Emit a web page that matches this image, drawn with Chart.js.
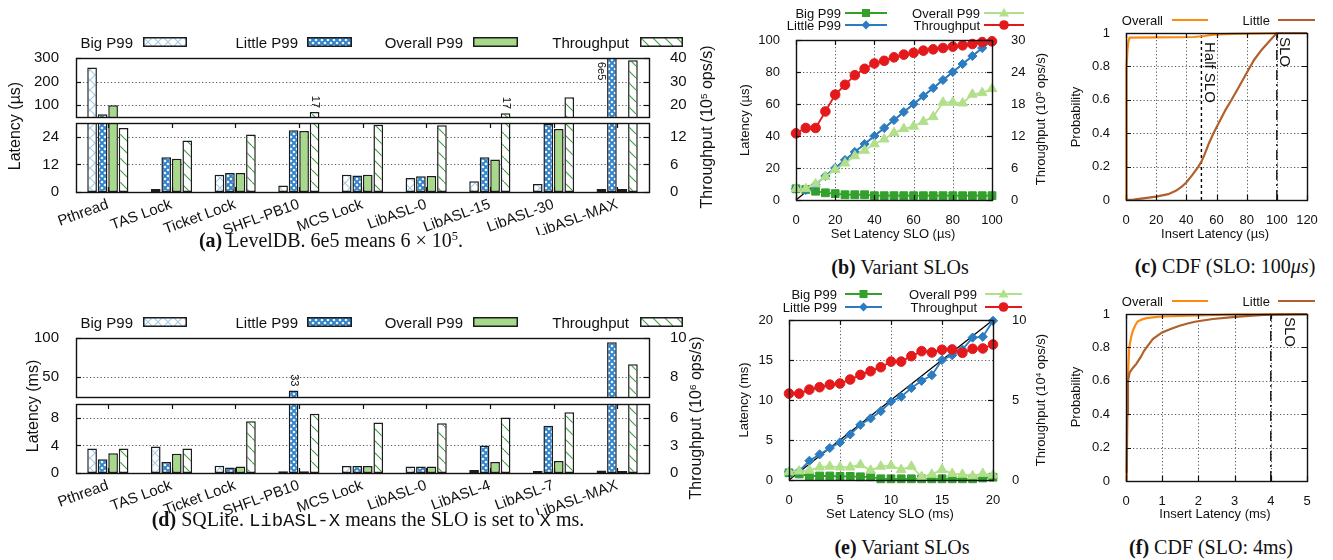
<!DOCTYPE html>
<html><head><meta charset="utf-8">
<script src="https://cdn.jsdelivr.net/npm/chart.js"></script>
<style>
html,body{margin:0;padding:0;background:#fff;}
#root{position:relative;width:1333px;height:560px;overflow:hidden;font-family:'Liberation Sans',Arial,Helvetica,sans-serif;color:#111;background:#fff;}
canvas{position:absolute;}
.lbl{position:absolute;white-space:nowrap;line-height:1;}
.vt{transform:translate(-50%,-50%) rotate(-90deg);}
.ct{transform:translate(-50%,-50%);}
.rt{transform:translate(-100%,-50%);}
.cap{font-family:'Liberation Serif','Times New Roman',serif;}
.cap code{font-family:'Liberation Mono','DejaVu Sans Mono',monospace;font-size:0.95em;}
sup{font-size:0.62em;position:relative;top:-0.55em;vertical-align:baseline;line-height:0;}
</style></head>
<body><div id="root"></div>
<script>
// ===================== DATA =====================
const seriesNames = ['Big P99', 'Little P99', 'Overall P99', 'Throughput'];

// (a) LevelDB  (latency in µs, throughput in 1e5 ops/s)
const catsA    = ['Pthread','TAS Lock','Ticket Lock','SHFL-PB10','MCS Lock','LibASL-0','LibASL-15','LibASL-30','LibASL-MAX'];
const bigA     = [260, 1.3, 7.5, 2.8, 7.5, 6.1, 4.7, 3.5, 1.3];
const littleA  = [62, 15.1, 8.3, 26.8, 7.2, 6.9, 15.1, 29.6, 600000];
const overallA = [100, 14.5, 8.3, 26.5, 7.5, 7.0, 14.1, 27.4, 1.3];
const tputA    = [13.9, 11.2, 12.5, 17.1, 14.6, 14.5, 16.6, 23.4, 39];
const ticksATopL = [100, 200, 300], ticksATopR = [20, 30, 40];
const ticksABotL = [0, 12, 24],     ticksABotR = [0, 6, 12];
const notesA = [
  {series: 3, cat: 3, text: '17', side: 'above'},
  {series: 3, cat: 6, text: '17', side: 'above'},
  {series: 1, cat: 8, text: '6e5', side: 'left'}
];

// (d) SQLite  (latency in ms, throughput in 1e6 ops/s)
const catsD    = ['Pthread','TAS Lock','Ticket Lock','SHFL-PB10','MCS Lock','LibASL-0','LibASL-4','LibASL-7','LibASL-MAX'];
const bigD     = [3.56, 3.85, 1.04, 0.25, 1.0, 0.95, 0.45, 0.3, 0.35];
const littleD  = [2.0, 1.6, 0.8, 33.3, 1.0, 0.95, 4.0, 6.86, 94.7];
const overallD = [2.86, 2.8, 0.95, 0.25, 1.0, 0.95, 1.6, 1.75, 0.3];
const tputD    = [2.67, 2.67, 5.63, 6.45, 5.48, 5.4, 6.04, 6.6, 8.67];
const ticksDTopL = [50, 100], ticksDTopR = [8, 10];
const ticksDBotL = [0, 4, 8], ticksDBotR = [0, 3, 6];
const notesD = [{series: 1, cat: 3, text: '33', side: 'above'}];

// (b) Variant SLOs, LevelDB
const sloB     = [0,5,10,15,20,25,30,35,40,45,50,55,60,65,70,75,80,85,90,95,100];
const bigB     = [7,6.5,5.5,4.5,4,3.3,3.3,3.3,2.7,2.7,2.7,2.7,2.7,2.7,2.7,2.7,2.7,2.7,2.7,2.7,2.7];
const littleB  = [7.1,6.3,9.5,15,20,25,30,35,40,45,50,55,60,65,70,75,80,85,90,95,99.5];
const overallB = [7,7,10,14.5,19,23,27.5,31,35,38,42,44.5,46,49,52,61,61,60.5,66,67,69.5];
const tputB    = [12.5,13.5,13.5,16.6,19.75,21.6,23.4,24.6,25.6,26.1,26.75,27.25,27.6,28,28.25,28.5,28.75,29,29.25,29.6,29.75];
const refB     = [0, 100];
const ticksBX = [0,20,40,60,80,100], ticksBL = [0,20,40,60,80,100], ticksBR = [0,6,12,18,24,30];

// (c) CDF, SLO 100 µs
const cdfOverallCx = [0, 0.2, 0.5, 1.0, 1.6, 2.4, 20, 45, 52, 58, 70, 100, 120];
const cdfOverallCy = [0, 0.6, 0.8, 0.9, 0.95, 0.972, 0.974, 0.976, 0.982, 0.99, 0.995, 1, 1];
const cdfLittleCx  = [0, 5, 10, 20, 28, 33, 37, 40, 44, 48, 50, 52, 55, 58, 62, 66, 70, 75, 80, 85, 90, 95, 100, 120];
const cdfLittleCy  = [0, 0.003, 0.008, 0.02, 0.035, 0.055, 0.08, 0.105, 0.15, 0.2, 0.23, 0.27, 0.34, 0.4, 0.47, 0.54, 0.6, 0.68, 0.76, 0.84, 0.9, 0.95, 1.0, 1.0];
const halfSloC = 50, sloC = 100;
const ticksCX = [0,20,40,60,80,100,120], ticksProb = [0,0.2,0.4,0.6,0.8,1];

// (e) Variant SLOs, SQLite
const sloE     = [0,1,2,3,4,5,6,7,8,9,10,11,12,13,14,15,16,17,18,19,20];
const bigE     = [0.9,0.75,0.5,0.5,0.5,0.45,0.45,0.4,0.4,0.15,0.15,0.15,0.15,0.15,0.15,0.15,0.15,0.15,0.15,0.25,0.35];
const littleE  = [1.0,1.1,2.4,3.2,4.0,4.7,5.7,6.9,7.7,8.6,9.8,10.4,11.5,12.4,13.1,15.0,15.6,16.3,17.8,17.9,19.9];
const overallE = [1.0,1.1,1.2,1.6,1.7,1.6,1.6,1.9,1.2,1.7,1.8,1.3,1.7,0.4,0.7,1.3,0.8,0.7,0.5,0.8,0.6];
const tputE    = [5.4,5.4,5.65,5.8,5.96,6.03,6.28,6.57,6.8,7.05,7.4,7.4,7.74,8.05,7.97,8.14,8.16,7.95,8.2,8.22,8.47];
const refE     = [0, 20];
const ticksEX = [0,5,10,15,20], ticksEL = [0,5,10,15,20], ticksER = [0,5,10];

// (f) CDF, SLO 4 ms
const cdfOverallFx = [0.02,0.04,0.06,0.09,0.14,0.19,0.25,0.32,0.45,0.56,0.8,1.0,1.5,2.0,3.0,5];
const cdfOverallFy = [0,0.45,0.66,0.8,0.86,0.9,0.93,0.955,0.968,0.975,0.981,0.985,0.988,0.991,0.997,1];
const cdfLittleFx  = [0.02,0.03,0.055,0.1,0.2,0.28,0.4,0.5,0.62,0.74,0.87,1.0,1.25,1.48,1.7,1.94,2.4,2.87,3.3,3.8,4.5,5];
const cdfLittleFy  = [0.05,0.4,0.6,0.65,0.68,0.7,0.74,0.78,0.815,0.85,0.87,0.89,0.912,0.93,0.943,0.955,0.97,0.98,0.987,0.995,0.998,0.999];
const sloF = 4;
const ticksFX = [0,1,2,3,4,5];

// ===================== STYLE =====================
const COL = {
  big: '#33a02c', little: '#2b7cc0', overall: '#b2df8a', tput: '#e3191c',
  overallBar: '#a6d98a', cdfOverall: '#ff8a12', cdfLittle: '#b0602c', edge: '#1c1c1c'
};
Chart.defaults.font.family = "'Liberation Sans', Arial, Helvetica, sans-serif";
Chart.defaults.color = '#111';

const root = document.getElementById('root');
const gpConf = {};

// gnuplot-like grid, inward ticks, frame and small annotations
const gpPlugin = {
  id: 'gp',
  beforeDatasetsDraw(chart) {
    const cf = gpConf[chart.canvas.id]; if (!cf) return;
    const {ctx, chartArea: a} = chart;
    ctx.save();
    ctx.strokeStyle = '#555'; ctx.lineWidth = 1; ctx.setLineDash([1.2, 2.3]);
    (cf.grid || []).forEach(id => {
      const s = chart.scales[id];
      s.ticks.forEach((t, i) => {
        const p = Math.round(s.getPixelForTick(i)) + 0.5;
        if (s.isHorizontal()) {
          if (p <= a.left + 2 || p >= a.right - 2) return;
          ctx.beginPath(); ctx.moveTo(p, a.top); ctx.lineTo(p, a.bottom); ctx.stroke();
        } else {
          if (p <= a.top + 2 || p >= a.bottom - 2) return;
          ctx.beginPath(); ctx.moveTo(a.left, p); ctx.lineTo(a.right, p); ctx.stroke();
        }
      });
    });
    ctx.restore();
  },
  afterDatasetsDraw(chart) {
    const cf = gpConf[chart.canvas.id]; if (!cf) return;
    const {ctx, chartArea: a} = chart;
    ctx.save();
    ctx.setLineDash([]); ctx.strokeStyle = '#111'; ctx.lineWidth = 1.2;
    const L = cf.tickLen || 5;
    Object.keys(cf.ticks || {}).forEach(id => {
      const side = cf.ticks[id], s = chart.scales[id];
      s.ticks.forEach((t, i) => {
        const p = Math.round(s.getPixelForTick(i)) + 0.5;
        ctx.beginPath();
        if (s.isHorizontal()) {
          if (side !== 'top') { ctx.moveTo(p, a.bottom); ctx.lineTo(p, a.bottom - L); }
          if (side !== 'bottom') { ctx.moveTo(p, a.top); ctx.lineTo(p, a.top + L); }
        } else {
          if (side !== 'right') { ctx.moveTo(a.left, p); ctx.lineTo(a.left + L, p); }
          if (side !== 'left') { ctx.moveTo(a.right, p); ctx.lineTo(a.right - L, p); }
        }
        ctx.stroke();
      });
    });
    ctx.lineWidth = 1.4;
    ctx.strokeRect(Math.round(a.left) + 0.5, Math.round(a.top) + 0.5, Math.round(a.right - a.left), Math.round(a.bottom - a.top));
    ctx.fillStyle = '#111';
    (cf.notes || []).forEach(n => {
      const bar = chart.getDatasetMeta(n.series).data[n.cat];
      ctx.font = "11px 'Liberation Sans', Arial, sans-serif";
      const w = ctx.measureText(n.text).width;
      let x, y;
      if (n.side === 'left') { x = bar.x - bar.width / 2 - 6; y = a.top + 4; }
      else { x = bar.x; y = bar.y - 4 - w; }
      ctx.save(); ctx.translate(x, y); ctx.rotate(Math.PI / 2);
      ctx.textAlign = 'left'; ctx.textBaseline = 'middle'; ctx.fillText(n.text, 0, 0);
      ctx.restore();
    });
    (cf.vlabels || []).forEach(v => {
      const x = chart.scales.x.getPixelForValue(v.value) + v.dx;
      ctx.font = v.size + "px 'Liberation Sans', Arial, sans-serif";
      ctx.save(); ctx.translate(x, a.top + v.dy); ctx.rotate(Math.PI / 2);
      ctx.textAlign = 'left'; ctx.textBaseline = 'middle'; ctx.fillText(v.text, 0, 0);
      ctx.restore();
    });
    ctx.restore();
  }
};
Chart.register(gpPlugin);

// ===================== HELPERS =====================
function mkCanvas(id, r) {
  const c = document.createElement('canvas');
  c.id = id; c.width = r[2]; c.height = r[3];
  Object.assign(c.style, {left: r[0] + 'px', top: r[1] + 'px', width: r[2] + 'px', height: r[3] + 'px'});
  root.appendChild(c);
  return c;
}
// x axis is always sized to B by afterFit (even when hidden), so bottom padding is 0
function frameLayout(r, b, hasY2) {
  const L = b[0] - r[0], T = b[1] - r[1], R = r[0] + r[2] - b[2], B = r[1] + r[3] - b[3];
  return {L, T, R, B, padding: {top: T, left: 0, right: hasY2 ? 0 : R, bottom: 0}};
}
function yAxis(pos, min, max, ticks, width, size, pad) {
  return {
    type: 'linear', position: pos, min, max,
    grid: {display: false}, border: {display: false},
    ticks: {font: {size}, padding: pad, color: '#111', callback: v => String(v)},
    afterBuildTicks: s => { s.ticks = ticks.map(v => ({value: v})); },
    afterFit: s => { s.width = width; }
  };
}
function makePattern(kind, ctx) {
  const t = document.createElement('canvas');
  const g = t.getContext('2d');
  if (kind === 'big') {
    t.width = t.height = 10;
    g.fillStyle = '#fff'; g.fillRect(0, 0, 10, 10);
    g.strokeStyle = '#a6cfeb'; g.lineWidth = 1.2;
    g.beginPath(); g.moveTo(0, 0); g.lineTo(10, 10); g.moveTo(10, 0); g.lineTo(0, 10); g.stroke();
  } else if (kind === 'little') {
    t.width = t.height = 6;
    g.fillStyle = '#2f84cc'; g.fillRect(0, 0, 6, 6);
    g.fillStyle = '#fff';
    [[3, 3], [0, 0], [6, 0], [0, 6], [6, 6]].forEach(([cx, cy]) => {
      g.beginPath(); g.moveTo(cx, cy - 1.6); g.lineTo(cx + 1.6, cy); g.lineTo(cx, cy + 1.6); g.lineTo(cx - 1.6, cy); g.closePath(); g.fill();
    });
  } else {
    t.width = t.height = 12;
    g.fillStyle = '#fff'; g.fillRect(0, 0, 12, 12);
    g.strokeStyle = '#3c9f3c'; g.lineWidth = 1.1;
    g.beginPath(); g.moveTo(-1, -1); g.lineTo(13, 13); g.stroke();
  }
  return ctx.createPattern(t, 'repeat');
}
function barFills(ctx) {
  return [makePattern('big', ctx), makePattern('little', ctx), COL.overallBar, makePattern('tput', ctx)];
}
function pts(xs, ys) { return xs.map((x, i) => ({x, y: ys[i]})); }

function txt(html, x, y, cls, size, extra) {
  const d = document.createElement('div');
  d.className = 'lbl ' + cls;
  d.innerHTML = html;
  d.style.left = x + 'px'; d.style.top = y + 'px'; d.style.fontSize = size + 'px';
  if (extra) Object.assign(d.style, extra);
  root.appendChild(d);
  return d;
}
function barSwatch(x1, x2, yc, idx) {
  const w = x2 - x1, h = 10;
  const c = document.createElement('canvas');
  c.width = w; c.height = h;
  Object.assign(c.style, {left: x1 + 'px', top: (yc - h / 2) + 'px'});
  root.appendChild(c);
  const g = c.getContext('2d');
  g.fillStyle = barFills(g)[idx]; g.fillRect(0, 0, w, h);
  g.strokeStyle = COL.edge; g.lineWidth = 1.5; g.strokeRect(0.75, 0.75, w - 1.5, h - 1.5);
}
function lineSample(x1, x2, yc, color, marker, lw) {
  const w = x2 - x1, h = 14, m = w / 2, c = 7;
  let mk = '';
  if (marker === 'rect') mk = `<rect x="${m - 4}" y="${c - 4}" width="8" height="8" fill="${color}"/>`;
  else if (marker === 'rectRot') mk = `<polygon points="${m},${c - 4.5} ${m + 4.5},${c} ${m},${c + 4.5} ${m - 4.5},${c}" fill="${color}"/>`;
  else if (marker === 'triangle') mk = `<polygon points="${m},${c - 5} ${m + 5},${c + 3.5} ${m - 5},${c + 3.5}" fill="${color}"/>`;
  else if (marker === 'circle') mk = `<circle cx="${m}" cy="${c}" r="4.8" fill="${color}"/>`;
  const d = document.createElement('div');
  d.style.cssText = `position:absolute;left:${x1}px;top:${yc - 7}px;width:${w}px;height:${h}px;`;
  d.innerHTML = `<svg width="${w}" height="${h}" xmlns="http://www.w3.org/2000/svg"><line x1="0" y1="${c}" x2="${w}" y2="${c}" stroke="${color}" stroke-width="${lw}"/>${mk}</svg>`;
  root.appendChild(d);
}

// ===================== BAR PANELS =====================
function barPanel(id, r, b, cats, series, yl, yr, showX, notes) {
  const c = mkCanvas(id, r), ctx = c.getContext('2d');
  const fills = barFills(ctx);
  const lay = frameLayout(r, b, true);
  const datasets = series.map((arr, i) => ({
    label: seriesNames[i], data: arr, yAxisID: i === 3 ? 'y2' : 'y',
    backgroundColor: fills[i], borderColor: COL.edge, borderWidth: 1.5, borderSkipped: false,
    categoryPercentage: 0.66, barPercentage: 0.92, clip: 0
  }));
  gpConf[id] = {grid: ['y'], ticks: showX ? {x: 'both', y: 'left', y2: 'right'} : {y: 'left', y2: 'right'}, notes};
  new Chart(ctx, {
    type: 'bar',
    data: {labels: cats, datasets},
    options: {
      responsive: false, animation: false, devicePixelRatio: 1, events: [],
      layout: {padding: lay.padding},
      plugins: {legend: {display: false}, tooltip: {enabled: false}},
      scales: {
        x: {type: 'category', display: showX, offset: true, grid: {display: false}, border: {display: false},
            ticks: {autoSkip: false, minRotation: 20, maxRotation: 20, font: {size: 15, lineHeight: 1}, padding: -3, color: '#111'},
            afterFit: s => { s.height = lay.B; }},
        y: yAxis('left', yl[0], yl[1], yl[2], lay.L, 15, 9),
        y2: yAxis('right', yr[0], yr[1], yr[2], lay.R, 15, 13)
      }
    }
  });
}

const seriesA = [bigA, littleA, overallA, tputA];
barPanel('aTop', [0, 30, 720, 115], [76, 58, 649, 117], catsA, seriesA, [50, 300, ticksATopL], [15, 40, ticksATopR], false, notesA);
barPanel('aBot', [0, 98, 720, 137], [76, 123, 649, 192], catsA, seriesA, [0, 30, ticksABotL], [0, 15, ticksABotR], true, []);

const seriesD = [bigD, littleD, overallD, tputD];
barPanel('dTop', [0, 310, 720, 115], [76, 338, 649, 397], catsD, seriesD, [25, 100, ticksDTopL], [7, 10, ticksDTopR], false, notesD);
barPanel('dBot', [0, 378, 720, 137], [76, 404, 649, 473], catsD, seriesD, [0, 10, ticksDBotL], [0, 7.5, ticksDBotR], true, []);

// ===================== LINE PANELS =====================
function ds(label, xs, ys, color, style, radius, axis, order, extra) {
  return Object.assign({
    label, data: pts(xs, ys), yAxisID: axis, borderColor: color, backgroundColor: color,
    pointBackgroundColor: color, pointBorderColor: color, pointStyle: style, pointRadius: radius,
    pointBorderWidth: 1, borderWidth: 1.8, tension: 0, order, clip: false
  }, extra || {});
}
function linePanel(id, r, b, datasets, ax, hasY2, conf) {
  const c = mkCanvas(id, r), ctx = c.getContext('2d');
  const lay = frameLayout(r, b, hasY2);
  gpConf[id] = conf;
  const scales = {
    x: {type: 'linear', min: ax.x[0], max: ax.x[1], grid: {display: false}, border: {display: false},
        ticks: {font: {size: 13}, padding: 5, color: '#111', maxRotation: 0, callback: v => String(v)},
        afterBuildTicks: s => { s.ticks = ax.xt.map(v => ({value: v})); },
        afterFit: s => { s.height = lay.B; }},
    y: yAxis('left', ax.y[0], ax.y[1], ax.yt, lay.L, 13, 8)
  };
  if (hasY2) scales.y2 = yAxis('right', ax.y2[0], ax.y2[1], ax.y2t, lay.R, 13, 11);
  new Chart(ctx, {
    type: 'line', data: {datasets},
    options: {responsive: false, animation: false, devicePixelRatio: 1, events: [],
      layout: {padding: lay.padding}, plugins: {legend: {display: false}, tooltip: {enabled: false}}, scales}
  });
}

// (b)
linePanel('bChart', [748, 12, 300, 220], [796, 40, 992, 200], [
  ds(seriesNames[3], sloB, tputB, COL.tput, 'circle', 4.8, 'y2', 0),
  ds(seriesNames[2], sloB, overallB, COL.overall, 'triangle', 5.6, 'y', 1),
  ds(seriesNames[1], sloB, littleB, COL.little, 'rectRot', 4.6, 'y', 2),
  ds(seriesNames[0], sloB, bigB, COL.big, 'rect', 5.5, 'y', 3),
  ds('y=x', refB, refB, '#000', 'circle', 0, 'y', 4, {borderWidth: 1.3})
], {x: [0, 100], xt: ticksBX, y: [0, 100], yt: ticksBL, y2: [0, 30], y2t: ticksBR}, true,
   {grid: ['x', 'y'], ticks: {x: 'both', y: 'left', y2: 'right'}});

// (e)
linePanel('eChart', [748, 292, 300, 220], [789, 320, 993, 480], [
  ds(seriesNames[3], sloE, tputE, COL.tput, 'circle', 4.8, 'y2', 0),
  ds(seriesNames[2], sloE, overallE, COL.overall, 'triangle', 5.6, 'y', 1),
  ds(seriesNames[1], sloE, littleE, COL.little, 'rectRot', 4.6, 'y', 2),
  ds(seriesNames[0], sloE, bigE, COL.big, 'rect', 5.5, 'y', 3),
  ds('y=x', refE, refE, '#000', 'circle', 0, 'y', 4, {borderWidth: 1.3})
], {x: [0, 20], xt: ticksEX, y: [0, 20], yt: ticksEL, y2: [0, 10], y2t: ticksER}, true,
   {grid: ['x', 'y'], ticks: {x: 'both', y: 'left', y2: 'right'}});

// (c)
linePanel('cChart', [1080, 5, 253, 227], [1126, 33, 1307, 200], [
  ds('Little', cdfLittleCx, cdfLittleCy, COL.cdfLittle, 'circle', 0, 'y', 0, {borderWidth: 2.2}),
  ds('Overall', cdfOverallCx, cdfOverallCy, COL.cdfOverall, 'circle', 0, 'y', 1, {borderWidth: 2.2}),
  ds('Half SLO', [halfSloC, halfSloC], [0, 1], '#000', 'circle', 0, 'y', 2, {borderWidth: 1.4, borderDash: [3, 3]}),
  ds('SLO', [sloC, sloC], [0, 1], '#000', 'circle', 0, 'y', 3, {borderWidth: 1.3, borderDash: [10, 4, 2, 4]})
], {x: [0, 120], xt: ticksCX, y: [0, 1], yt: ticksProb}, false,
   {grid: ['x', 'y'], ticks: {x: 'both', y: 'both'},
    vlabels: [{value: halfSloC, text: 'Half SLO', dx: 8, dy: 9, size: 15}, {value: sloC, text: 'SLO', dx: 7, dy: 4, size: 15}]});

// (f)
linePanel('fChart', [1080, 286, 253, 227], [1126, 314, 1307, 481], [
  ds('Little', cdfLittleFx, cdfLittleFy, COL.cdfLittle, 'circle', 0, 'y', 0, {borderWidth: 2.2}),
  ds('Overall', cdfOverallFx, cdfOverallFy, COL.cdfOverall, 'circle', 0, 'y', 1, {borderWidth: 2.2}),
  ds('SLO', [sloF, sloF], [0, 1], '#000', 'circle', 0, 'y', 2, {borderWidth: 1.3, borderDash: [10, 4, 2, 4]})
], {x: [0, 5], xt: ticksFX, y: [0, 1], yt: ticksProb}, false,
   {grid: ['x', 'y'], ticks: {x: 'both', y: 'both'},
    vlabels: [{value: sloF, text: 'SLO', dx: 18, dy: 3, size: 15}]});

// ===================== LEGENDS =====================
function barLegend(yc) {
  const pos = [[133, 143, 187], [298, 307, 352], [463, 473, 518], [629, 640, 683]];
  pos.forEach((p, i) => {
    txt(seriesNames[i], p[0], yc, 'rt', 15);
    barSwatch(p[1], p[2], yc, i);
  });
}
barLegend(42);
barLegend(322);

function lineLegend(y1, y2, te1, s1, te2, s2) {
  const items = [
    [0, y1, te1, s1, COL.big, 'rect'], [1, y2, te1, s1, COL.little, 'rectRot'],
    [2, y1, te2, s2, COL.overall, 'triangle'], [3, y2, te2, s2, COL.tput, 'circle']
  ];
  items.forEach(([i, y, te, s, col, mk]) => {
    txt(seriesNames[i], te, y, 'rt', 13);
    lineSample(s[0], s[1], y, col, mk, 1.8);
  });
}
lineLegend(12.7, 25, 841, [845, 887], 980, [984, 1024]);
lineLegend(294, 307, 837, [845, 882], 977, [985, 1022]);

function cdfLegend(y) {
  txt('Overall', 1163, y, 'rt', 13); lineSample(1172, 1208, y, COL.cdfOverall, null, 2.2);
  txt('Little', 1270, y, 'rt', 13);  lineSample(1278, 1315, y, COL.cdfLittle, null, 2.2);
}
cdfLegend(20);
cdfLegend(301);

// ===================== AXIS TITLES =====================
txt('Latency (µs)', 15, 126, 'vt', 16);
txt('Throughput (10<sup>5</sup> ops/s)', 707, 127, 'vt', 16);
txt('Latency (ms)', 33, 406, 'vt', 16);
txt('Throughput (10<sup>6</sup> ops/s)', 696, 418, 'vt', 16);

txt('Latency (µs)', 744, 120, 'vt', 13);
txt('Throughput (10<sup>5</sup> ops/s)', 1040, 119, 'vt', 13);
txt('Set Latency SLO (µs)', 893, 233, 'ct', 13);
txt('Probability', 1075, 117, 'vt', 13);
txt('Insert Latency (µs)', 1215, 233, 'ct', 13);

txt('Latency (ms)', 743, 400, 'vt', 13);
txt('Throughput (10<sup>4</sup> ops/s)', 1040, 400, 'vt', 13);
txt('Set Latency SLO (ms)', 890, 513, 'ct', 13);
txt('Probability', 1075, 397, 'vt', 13);
txt('Insert Latency (ms)', 1215, 513, 'ct', 13);

// ===================== CAPTIONS =====================
txt('<b>(a)</b> LevelDB. 6e5 means 6 × 10<sup>5</sup>.', 331, 240, 'ct cap', 20);
txt('<b>(b)</b> Variant SLOs', 900, 267, 'ct cap', 20);
txt('<b>(c)</b> CDF (SLO: 100<i>μs</i>)', 1225, 266, 'ct cap', 20);
txt('<b>(d)</b> SQLite. <code>LibASL-X</code> means the SLO is set to <code>X</code> ms.', 368, 520, 'ct cap', 20);
txt('<b>(e)</b> Variant SLOs', 902, 547, 'ct cap', 20);
txt('<b>(f)</b> CDF (SLO: 4ms)', 1211, 547, 'ct cap', 20);
</script>
</body></html>
